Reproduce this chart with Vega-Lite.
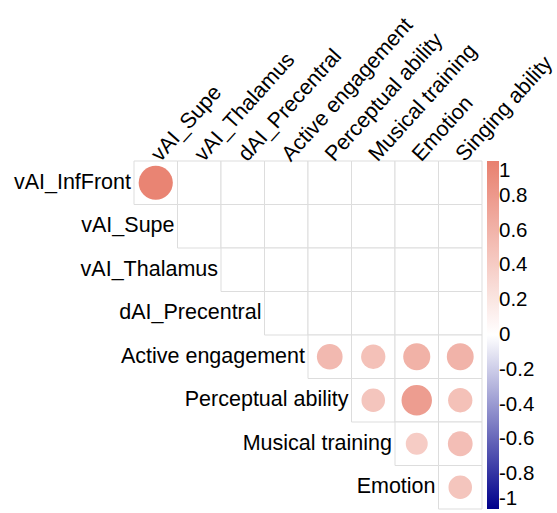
{
  "$schema": "https://vega.github.io/schema/vega-lite/v6.json",
  "width": 348,
  "height": 348,
  "autosize": "none",
  "padding": {"left": 134, "top": 161, "right": 75, "bottom": 4},
  "config": {"view": {"stroke": null}, "font": "Liberation Sans"},
  "datasets": {
    "cells": [
      {"row": "vAI_InfFront", "col": "vAI_Supe", "r": 0.97},
      {"row": "vAI_InfFront", "col": "vAI_Thalamus", "r": null},
      {"row": "vAI_InfFront", "col": "dAI_Precentral", "r": null},
      {"row": "vAI_InfFront", "col": "Active engagement", "r": null},
      {"row": "vAI_InfFront", "col": "Perceptual ability", "r": null},
      {"row": "vAI_InfFront", "col": "Musical training", "r": null},
      {"row": "vAI_InfFront", "col": "Emotion", "r": null},
      {"row": "vAI_InfFront", "col": "Singing ability", "r": null},
      {"row": "vAI_Supe", "col": "vAI_Thalamus", "r": null},
      {"row": "vAI_Supe", "col": "dAI_Precentral", "r": null},
      {"row": "vAI_Supe", "col": "Active engagement", "r": null},
      {"row": "vAI_Supe", "col": "Perceptual ability", "r": null},
      {"row": "vAI_Supe", "col": "Musical training", "r": null},
      {"row": "vAI_Supe", "col": "Emotion", "r": null},
      {"row": "vAI_Supe", "col": "Singing ability", "r": null},
      {"row": "vAI_Thalamus", "col": "dAI_Precentral", "r": null},
      {"row": "vAI_Thalamus", "col": "Active engagement", "r": null},
      {"row": "vAI_Thalamus", "col": "Perceptual ability", "r": null},
      {"row": "vAI_Thalamus", "col": "Musical training", "r": null},
      {"row": "vAI_Thalamus", "col": "Emotion", "r": null},
      {"row": "vAI_Thalamus", "col": "Singing ability", "r": null},
      {"row": "dAI_Precentral", "col": "Active engagement", "r": null},
      {"row": "dAI_Precentral", "col": "Perceptual ability", "r": null},
      {"row": "dAI_Precentral", "col": "Musical training", "r": null},
      {"row": "dAI_Precentral", "col": "Emotion", "r": null},
      {"row": "dAI_Precentral", "col": "Singing ability", "r": null},
      {"row": "Active engagement", "col": "Perceptual ability", "r": 0.55},
      {"row": "Active engagement", "col": "Musical training", "r": 0.49},
      {"row": "Active engagement", "col": "Emotion", "r": 0.61},
      {"row": "Active engagement", "col": "Singing ability", "r": 0.6},
      {"row": "Perceptual ability", "col": "Musical training", "r": 0.46},
      {"row": "Perceptual ability", "col": "Emotion", "r": 0.77},
      {"row": "Perceptual ability", "col": "Singing ability", "r": 0.49},
      {"row": "Musical training", "col": "Emotion", "r": 0.4},
      {"row": "Musical training", "col": "Singing ability", "r": 0.51},
      {"row": "Emotion", "col": "Singing ability", "r": 0.46}
    ],
    "labels": [
      {"label": "vAI_InfFront", "row": "vAI_InfFront", "col": "vAI_Supe"},
      {"label": "vAI_Supe", "row": "vAI_Supe", "col": "vAI_Thalamus"},
      {"label": "vAI_Thalamus", "row": "vAI_Thalamus", "col": "dAI_Precentral"},
      {"label": "dAI_Precentral", "row": "dAI_Precentral", "col": "Active engagement"},
      {"label": "Active engagement", "row": "Active engagement", "col": "Perceptual ability"},
      {"label": "Perceptual ability", "row": "Perceptual ability", "col": "Musical training"},
      {"label": "Musical training", "row": "Musical training", "col": "Emotion"},
      {"label": "Emotion", "row": "Emotion", "col": "Singing ability"}
    ]
  },
  "layer": [
    {
      "data": {"name": "cells"},
      "mark": {"type": "rect", "fill": "white", "stroke": "#DDDDDD", "strokeWidth": 1},
      "encoding": {
        "x": {
          "field": "col", "type": "nominal",
          "sort": ["vAI_Supe", "vAI_Thalamus", "dAI_Precentral", "Active engagement", "Perceptual ability", "Musical training", "Emotion", "Singing ability"],
          "scale": {"domain": ["vAI_Supe", "vAI_Thalamus", "dAI_Precentral", "Active engagement", "Perceptual ability", "Musical training", "Emotion", "Singing ability"], "paddingInner": 0, "paddingOuter": 0},
          "axis": {"orient": "top", "title": null, "labelAngle": -48, "labelAlign": "left", "labelBaseline": "middle", "labelPadding": 3, "labelFontSize": 21.5, "labelFont": "Liberation Sans", "labelColor": "black", "labelLimit": 400, "domain": false, "ticks": false, "grid": false}
        },
        "y": {
          "field": "row", "type": "nominal",
          "scale": {"domain": ["vAI_InfFront", "vAI_Supe", "vAI_Thalamus", "dAI_Precentral", "Active engagement", "Perceptual ability", "Musical training", "Emotion"], "paddingInner": 0, "paddingOuter": 0},
          "axis": null
        }
      }
    },
    {
      "data": {"name": "cells"},
      "transform": [{"filter": "datum.r != null"}],
      "mark": {"type": "point", "shape": "circle", "filled": true, "opacity": 1},
      "encoding": {
        "x": {"field": "col", "type": "nominal"},
        "y": {"field": "row", "type": "nominal"},
        "size": {"field": "r", "type": "quantitative", "scale": {"domain": [0, 1], "range": [0, 1204]}, "legend": null},
        "color": {
          "field": "r", "type": "quantitative",
          "scale": {"domain": [-1, 0, 1], "range": ["#00008B", "#FFFFFF", "#E8806F"], "interpolate": "rgb"},
          "legend": {
            "title": null, "orient": "none", "legendX": 353, "legendY": 0,
            "direction": "vertical", "type": "gradient",
            "gradientLength": 348, "gradientThickness": 12, "gradientStrokeWidth": 0,
            "values": [1, 0.8, 0.6, 0.4, 0.2, 0, -0.2, -0.4, -0.6, -0.8, -1],
            "labelExpr": "'' + datum.value",
            "labelFontSize": 20.5, "labelFont": "Liberation Sans", "labelColor": "black",
            "labelOffset": 0, "labelBaseline": "middle", "labelOverlap": false
          }
        }
      }
    },
    {
      "data": {"name": "labels"},
      "mark": {"type": "text", "align": "right", "baseline": "middle", "dx": -3, "fontSize": 21.5, "font": "Liberation Sans", "color": "black"},
      "encoding": {
        "x": {"field": "col", "type": "nominal", "bandPosition": 0},
        "y": {"field": "row", "type": "nominal"},
        "text": {"field": "label"}
      }
    }
  ]
}
